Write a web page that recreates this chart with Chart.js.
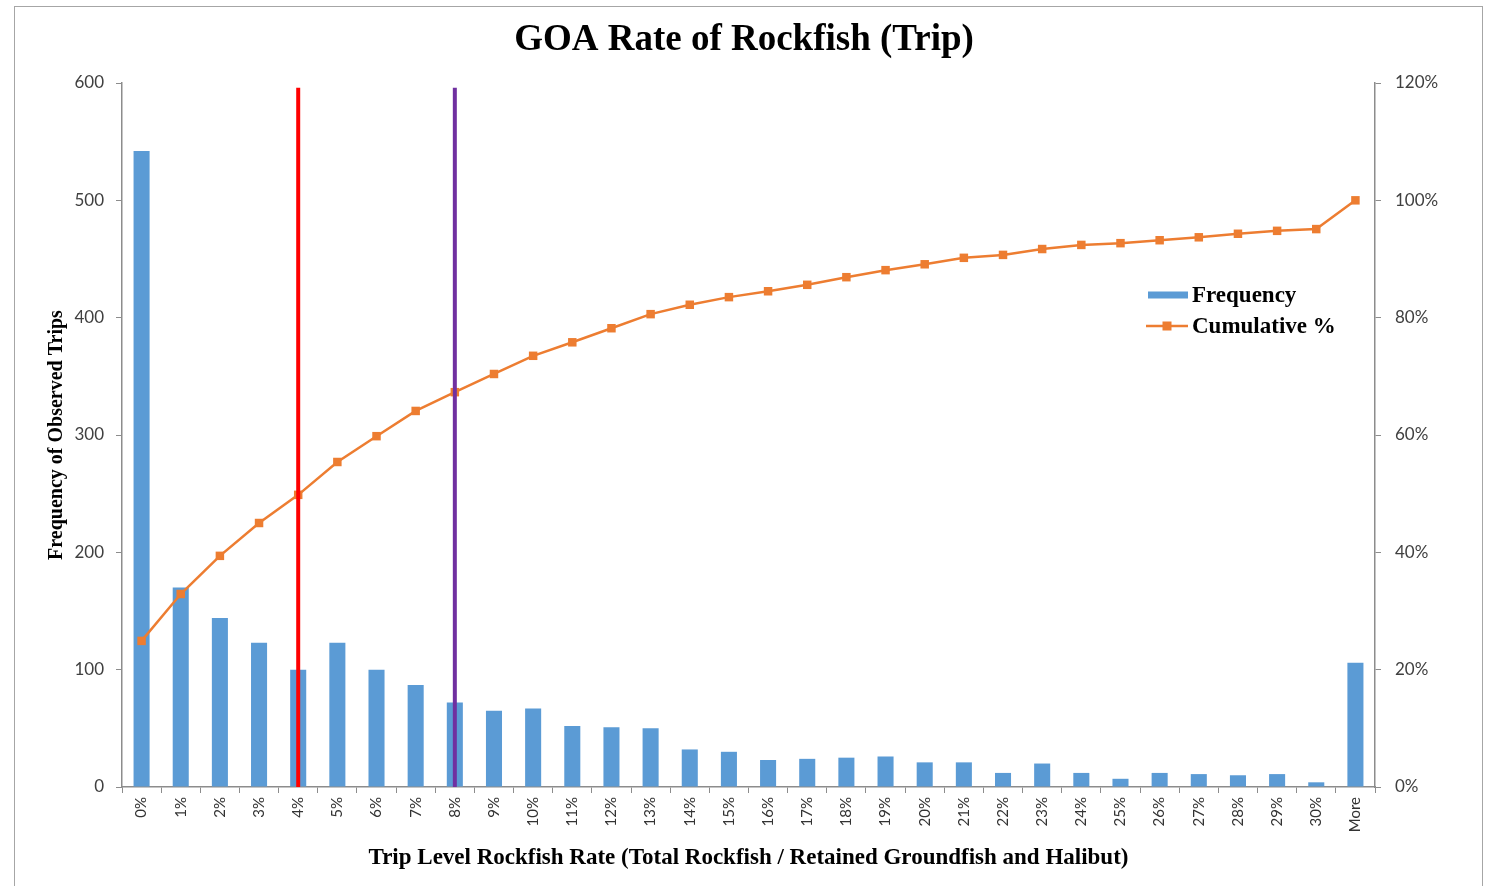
<!DOCTYPE html>
<html>
<head>
<meta charset="utf-8">
<title>GOA Rate of Rockfish (Trip)</title>
<script src="https://cdn.jsdelivr.net/npm/chart.js@4.4.1/dist/chart.umd.min.js"></script>
<style>
    html, body { margin: 0; padding: 0; background: #fff; }
    #wrap { width: 1488px; height: 886px; }
</style>
</head>
<body>
<div id="wrap"><canvas id="chart" width="1488" height="886"></canvas></div>
<script>
// Data
const categories = ['0%', '1%', '2%', '3%', '4%', '5%', '6%', '7%', '8%', '9%', '10%',
    '11%', '12%', '13%', '14%', '15%', '16%', '17%', '18%', '19%', '20%',
    '21%', '22%', '23%', '24%', '25%', '26%', '27%', '28%', '29%', '30%', 'More'];
const frequency = [542, 170, 144, 123, 100, 123, 100, 87, 72, 65, 67,
    52, 51, 50, 32, 30, 23, 24, 25, 26, 21,
    21, 12, 20, 12, 7, 12, 11, 10, 11, 4, 106];
const cumulativePct = [24.9, 32.9, 39.4, 45.0, 49.8, 55.4, 59.8, 64.1, 67.3, 70.4, 73.5,
    75.8, 78.2, 80.6, 82.2, 83.5, 84.5, 85.6, 86.9, 88.1, 89.1,
    90.2, 90.7, 91.7, 92.4, 92.7, 93.2, 93.7, 94.3, 94.8, 95.1, 100];
const freqTicks = { min: 0, max: 600, step: 100 };
const pctTicks = { min: 0, max: 120, step: 20 };
// vertical reference lines (category, top value on the frequency axis)
const refLines = [
    { rate: '4%', top: 596, color: '#ff0000' },
    { rate: '8%', top: 596, color: '#7030a0' }
];

const BLUE = '#5b9bd5';
const ORANGE = '#ed7d31';
const AXIS = '#8c8c8c';
const SERIF = '"Liberation Serif", "Times New Roman", serif';
const SANS = 'Lato, "Liberation Sans", sans-serif';

// Outer frame round the whole chart
const framePlugin = {
    id: 'frame',
    beforeDraw(chart) {
        const ctx = chart.ctx;
        ctx.save();
        ctx.fillStyle = '#fff';
        ctx.fillRect(0, 0, chart.width, chart.height);
        ctx.strokeStyle = '#a6a6a6';
        ctx.lineWidth = 1;
        ctx.strokeRect(14.5, 6.5, 1468, 900);
        ctx.restore();
    }
};

// Legend sitting inside the plot, like the spreadsheet one
const insideLegend = {
    id: 'insideLegend',
    afterDraw(chart, args, opts) {
        const ctx = chart.ctx;
        const bar = chart.data.datasets[0];
        const line = chart.data.datasets[1];
        const x = opts.x, y = opts.y, y2 = opts.y + opts.gap;
        ctx.save();
        ctx.font = 'bold 23px ' + SERIF;
        ctx.textBaseline = 'middle';
        ctx.textAlign = 'left';

        ctx.fillStyle = bar.backgroundColor;
        ctx.fillRect(x, y - 3.5, 40, 7);
        ctx.fillStyle = '#000';
        ctx.fillText(bar.label, x + 44, y + 1);

        ctx.strokeStyle = line.borderColor;
        ctx.lineWidth = 2.5;
        ctx.beginPath();
        ctx.moveTo(x - 2, y2);
        ctx.lineTo(x + 40, y2);
        ctx.stroke();
        ctx.fillStyle = line.borderColor;
        ctx.fillRect(x + 19 - 4.5, y2 - 4.5, 9, 9);
        ctx.fillStyle = '#000';
        ctx.fillText(line.label, x + 44, y2 + 1);
        ctx.restore();
    }
};

const refDatasets = refLines.map((r, i) => ({
    type: 'line',
    label: 'ref ' + r.rate,
    data: [{ x: r.rate, y: 0 }, { x: r.rate, y: r.top }],
    borderColor: r.color,
    borderWidth: 4,
    pointRadius: 0,
    yAxisID: 'y',
    order: i
}));

new Chart(document.getElementById('chart'), {
    type: 'bar',
    data: {
        labels: categories,
        datasets: [
            {
                type: 'bar',
                label: 'Frequency',
                data: frequency,
                backgroundColor: BLUE,
                barPercentage: 0.41,
                categoryPercentage: 1,
                yAxisID: 'y',
                order: 4
            },
            {
                type: 'line',
                label: 'Cumulative %',
                data: cumulativePct,
                borderColor: ORANGE,
                backgroundColor: ORANGE,
                borderWidth: 2.5,
                pointStyle: 'rect',
                pointRadius: 6,
                pointBorderWidth: 0,
                pointBackgroundColor: ORANGE,
                tension: 0,
                yAxisID: 'y1',
                order: 3
            },
            ...refDatasets
        ]
    },
    options: {
        responsive: false,
        animation: false,
        events: [],
        layout: { padding: 0 },
        plugins: {
            legend: { display: false },
            tooltip: { enabled: false },
            title: {
                display: true,
                text: 'GOA Rate of Rockfish (Trip)',
                color: '#000',
                font: { family: SERIF, size: 37, weight: 'bold' },
                padding: { top: 18, bottom: 20.6 }
            },
            insideLegend: { x: 1148, y: 295, gap: 31 }
        },
        scales: {
            x: {
                type: 'category',
                offset: true,
                grid: { display: true, drawOnChartArea: false, tickLength: 6, color: AXIS, offset: true },
                border: { color: AXIS, width: 1.5 },
                ticks: {
                    autoSkip: false, minRotation: 90, maxRotation: 90,
                    padding: 4, color: '#333',
                    font: { family: SANS, size: 15 }
                },
                title: {
                    display: true,
                    text: 'Trip Level Rockfish Rate (Total Rockfish / Retained Groundfish and Halibut)',
                    color: '#000',
                    font: { family: SERIF, size: 23, weight: 'bold' },
                    padding: { top: 4, bottom: 14 }
                },
                afterFit: s => { s.height = 99; }
            },
            y: {
                position: 'left',
                min: freqTicks.min, max: freqTicks.max,
                grid: { drawOnChartArea: false, tickLength: 6, color: AXIS },
                border: { color: AXIS, width: 1.5 },
                ticks: { stepSize: freqTicks.step, padding: 12, color: '#404040', font: { family: SANS, size: 17 } },
                title: {
                    display: true,
                    text: 'Frequency of Observed Trips',
                    color: '#000',
                    font: { family: SERIF, size: 20, weight: 'bold' },
                    padding: { top: 45 }
                },
                afterFit: s => { s.width = 122; }
            },
            y1: {
                position: 'right',
                min: pctTicks.min, max: pctTicks.max,
                grid: { drawOnChartArea: false, tickLength: 6, color: AXIS },
                border: { color: AXIS, width: 1.5 },
                ticks: {
                    stepSize: pctTicks.step, padding: 14, color: '#404040',
                    font: { family: SANS, size: 17 },
                    callback: v => v + '%'
                },
                afterFit: s => { s.width = 113; }
            }
        }
    },
    plugins: [framePlugin, insideLegend]
});
</script>
</body>
</html>
